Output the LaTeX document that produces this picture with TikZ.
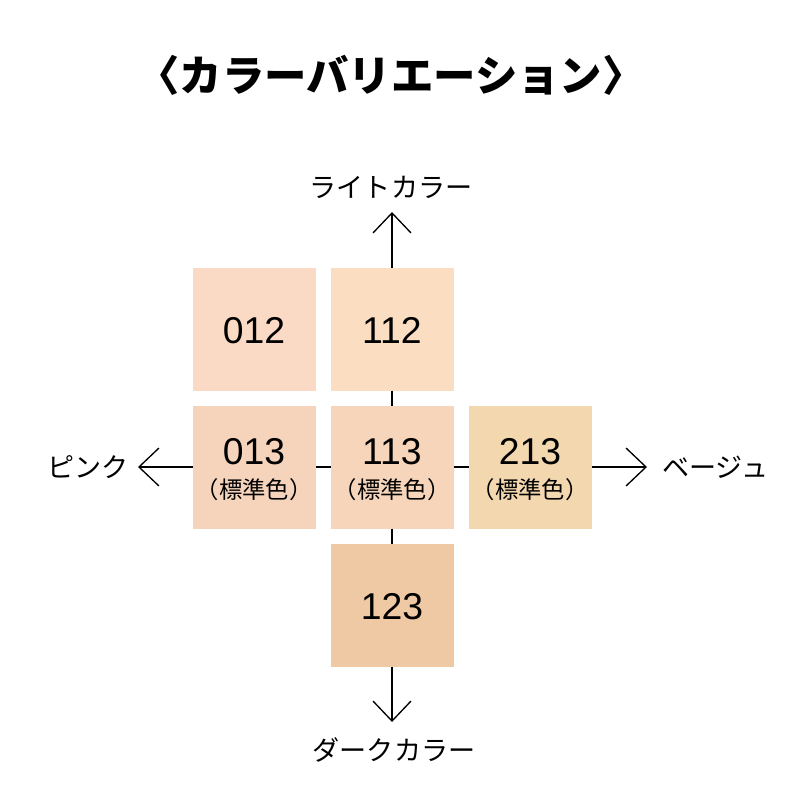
\documentclass[tikz,border=0pt]{standalone}
\usepackage{fontspec}
\setmainfont{Liberation Sans}
\newfontfamily\jp{Noto Sans CJK JP}
\usetikzlibrary{arrows.meta}
\definecolor{c012}{HTML}{FAD9C5}
\definecolor{c112}{HTML}{FBDDC1}
\definecolor{c013}{HTML}{F6D4BC}
\definecolor{c113}{HTML}{F6D5BA}
\definecolor{c213}{HTML}{F2D7AF}
\definecolor{c123}{HTML}{EFC9A3}
\tikzset{
  box/.style={draw=none, minimum size=92.25pt, inner sep=0pt, outer sep=0pt},
  num/.style={anchor=base, inner sep=0pt, font=\fontsize{28pt}{30pt}\selectfont},
  std/.style={anchor=center, inner sep=0pt, font=\jp\fontsize{17.5pt}{19pt}\selectfont},
  axlabel/.style={inner sep=0pt, font=\jp\fontsize{20.3pt}{22pt}\selectfont},
  conn/.style={line width=1pt, black},
  axis/.style={line width=1pt, black, -{Straight Barb[length=15pt, width=28.5pt, line width=1pt]}}
}
\begin{document}
\begin{tikzpicture}[x=0.75pt, y=-0.75pt]
\useasboundingbox (0,0) rectangle (800,800);
\fill[white] (0,0) rectangle (800,800);
% title
\node[inner sep=0pt, font=\jp\bfseries\fontsize{31.8pt}{34pt}\selectfont] (title) at (391,75) {〈カラーバリエーション〉};
% boxes
\node[box, fill=c012] (b012) at (254,329) {};
\node[box, fill=c112] (b112) at (392,329) {};
\node[box, fill=c013] (b013) at (254,467) {};
\node[box, fill=c113] (b113) at (392,467) {};
\node[box, fill=c213] (b213) at (530,467) {};
\node[box, fill=c123] (b123) at (392,605) {};
% box texts
\node[num] (n012) at (254,343) {012};
\node[num] (n112) at (392,343) {112};
\node[num] (n013) at (254,464) {013};
\node[num] (n113) at (392,464) {113};
\node[num] (n213) at (530,464) {213};
\node[num] (n123) at (392,619) {123};
\node[std] (s013) at (254,490) {（標準色）};
\node[std] (s113) at (392,490) {（標準色）};
\node[std] (s213) at (530,490) {（標準色）};
% connectors between boxes
\draw[conn] (b112.south) -- (b113.north);
\draw[conn] (b113.south) -- (b123.north);
\draw[conn] (b013.east) -- (b113.west);
\draw[conn] (b113.east) -- (b213.west);
% axis arrows
\coordinate (tipup) at (392,212);
\coordinate (tipdown) at (392,722);
\coordinate (tipleft) at (138,467);
\coordinate (tipright) at (647,467);
\draw[axis] (b112.north) -- (tipup);
\draw[axis] (b123.south) -- (tipdown);
\draw[axis] (b013.west) -- (tipleft);
\draw[axis] (b213.east) -- (tipright);
% axis labels
\node[axlabel] (light) at (391,187) {ライトカラー};
\node[axlabel] (dark) at (394,750) {ダークカラー};
\node[axlabel, anchor=east] (pink) at (129,467) {ピンク};
\node[axlabel, anchor=west] (beige) at (662,467) {ベージュ};
\end{tikzpicture}
\end{document}
